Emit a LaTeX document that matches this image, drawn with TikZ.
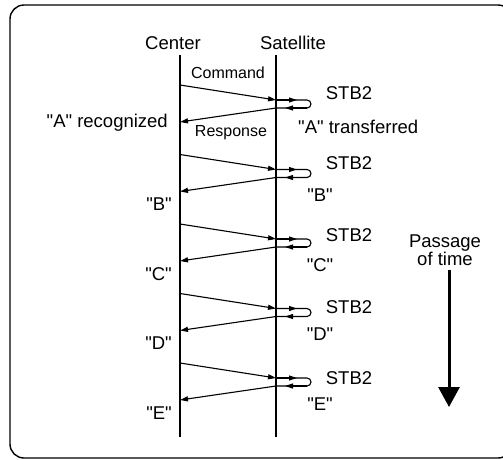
\documentclass[tikz,border=0pt]{standalone}
\usepackage{fontspec}
\setmainfont{Liberation Sans}
\usetikzlibrary{arrows.meta, calc, positioning}
\newcommand\qtag[1]{\textquotedbl#1\textquotedbl}

\begin{document}
\begin{tikzpicture}[x=1pt, y=-1pt,
  lifeline/.style={line width=2.6pt},
  msg/.style={line width=1.1pt, -{Triangle[length=8pt,width=5pt]}},
  loopline/.style={line width=1.1pt},
  lbl/.style={font=\fontsize{18.5}{18}\selectfont, inner sep=0pt},
  small/.style={font=\fontsize{16}{18}\selectfont, inner sep=0pt}]
\useasboundingbox (0,0) rectangle (503,459);
\def\xc{180}
\def\xs{276}
\def\ytop{55}
\def\ybot{437}
\def\gap{69.5}

% frame
\draw[line width=1.4pt, rounded corners=14pt] (10,5) rectangle (512,458);

% lifelines
\coordinate (ctop) at (\xc,\ytop);
\coordinate (cbot) at (\xc,\ybot);
\coordinate (stop) at (\xs,\ytop);
\coordinate (sbot) at (\xs,\ybot);
\draw[lifeline] (ctop) -- (cbot);
\draw[lifeline] (stop) -- (sbot);
\node[lbl] (center) at (173,43) {Center};
\node[lbl] (satellite) at (293,43) {Satellite};

% one command/response cycle per message
\foreach \i/\tag/\dstb in {0/A/-7, 1/B/-6, 2/C/-4, 3/D/-1, 4/E/0} {
  \pgfmathsetmacro{\yy}{85+\i*\gap}
  \coordinate (cmd\i) at (\xc,\yy);
  \coordinate (arr\i) at (\xs,\yy+15);
  \coordinate (ret\i) at (\xs,\yy+23);
  \coordinate (rsp\i) at (\xc,\yy+37);
  \draw[msg] (cmd\i) -- (arr\i);
  \draw[msg] (ret\i) -- (rsp\i);
  \draw[loopline] (arr\i) -- ++(31,0) arc[start angle=-90, end angle=90, radius=4] -- (ret\i);
  \draw[msg] (arr\i) -- ++(21,0);
  \draw[msg] ($(ret\i)+(31,0)$) -- ++(-22,0);
  \node[lbl] (stb\i) at ($(arr\i)+(73,\dstb)$) {STB2};
}

% labels of the messages
\node[small] (command) at (228,73) {Command};
\node[small] (response) at (231,133) {Response};
\node[lbl, anchor=east] (recA) at ($(rsp0)+(-12,1)$) {\qtag{A} recognized};
\node[lbl, anchor=west] (trA) at ($(arr0)+(22,27)$) {\qtag{A} transferred};
\foreach \i/\tag in {1/B, 2/C, 3/D, 4/E} {
  \node[lbl, anchor=east] (rec\tag) at ($(rsp\i)+(-8,13)$) {\qtag{\tag}};
  \node[lbl] (tr\tag) at ($(arr\i)+(44,26)$) {\qtag{\tag}};
}

% passage of time
\node[lbl, align=center] (passage) at (445,250) {Passage\\of time};
\coordinate (tstart) at (449,270);
\coordinate (tend) at (449,407);
\draw[line width=3pt, -{Triangle[length=20pt,width=21pt]}] (tstart) -- (tend);
\end{tikzpicture}
\end{document}
